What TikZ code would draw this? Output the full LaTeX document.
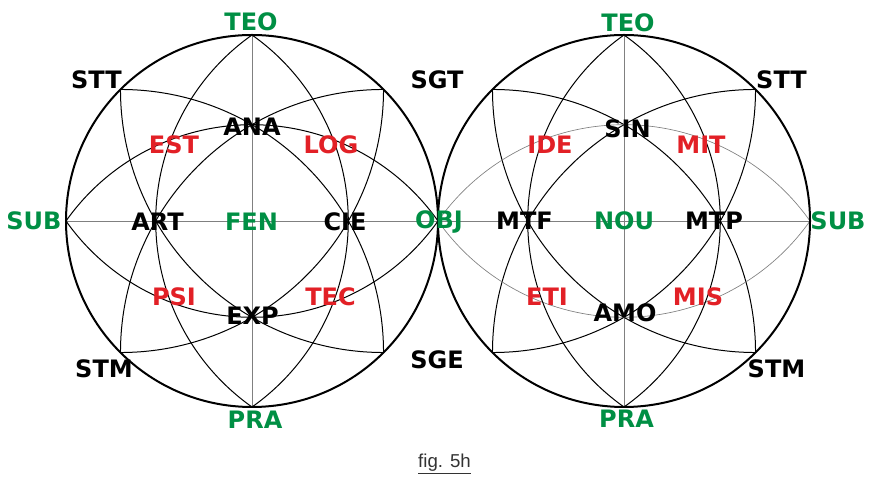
\documentclass[tikz,border=0pt]{standalone}
\usepackage{fontspec}
\setmainfont{DejaVu Sans}
\newfontfamily\capfont{Liberation Sans}
\usepackage{xcolor}
\usepackage{tikz}
\definecolor{verde}{RGB}{0,143,68}
\definecolor{rojo}{RGB}{226,32,38}

\begin{document}
\begin{tikzpicture}[x=0.75pt,y=0.75pt,
  lbl/.style={font=\fontsize{18}{18}\selectfont\bfseries,inner sep=0pt,text depth=0pt},
  eje/.style={lbl,text=verde},
  sec/.style={lbl,text=black},
  med/.style={lbl,text=rojo},
  borde/.style={line width=1.5pt},
  arco/.style={line width=0.75pt},
  fino/.style={line width=0.5pt,gray}]
\useasboundingbox (0,0) rectangle (871,481);
\coordinate (lc) at (252,260);
\coordinate (rc) at (624,260);
\path (lc) ++(90:186) coordinate (lteo)
      (lc) ++(270:186) coordinate (lpra)
      (lc) ++(180:186) coordinate (lsub)
      (lc) ++(0:186) coordinate (lobj)
      (lc) ++(135:186) coordinate (lstt)
      (lc) ++(45:186) coordinate (lsgt)
      (lc) ++(225:186) coordinate (lstm)
      (lc) ++(315:186) coordinate (lsge);
\path (rc) ++(90:186) coordinate (rteo)
      (rc) ++(270:186) coordinate (rpra)
      (rc) ++(180:186) coordinate (robj)
      (rc) ++(0:186) coordinate (rsub)
      (rc) ++(135:186) coordinate (rsgt)
      (rc) ++(45:186) coordinate (rstt)
      (rc) ++(225:186) coordinate (rsge)
      (rc) ++(315:186) coordinate (rstm);

\draw[fino] (lteo) -- (lpra);
\draw[fino] (rteo) -- (rpra);
\draw[fino] (lsub) -- (rsub);

\draw[arco] (lstt) arc[start angle=180,end angle=270,radius=263.05];
\draw[arco] (lsgt) arc[start angle=0,end angle=-90,radius=263.05];
\draw[arco] (lstt) arc[start angle=90,end angle=0,radius=263.05];
\draw[arco] (lstm) arc[start angle=180,end angle=90,radius=263.05];
\draw[arco] (lsub) arc[start angle=144.74,end angle=35.26,radius=227.8];
\draw[arco] (lsub) arc[start angle=215.26,end angle=324.74,radius=227.8];
\draw[arco] (lteo) arc[start angle=125.26,end angle=234.74,radius=227.8];
\draw[arco] (lteo) arc[start angle=54.74,end angle=-54.74,radius=227.8];

\draw[arco] (rsgt) arc[start angle=180,end angle=270,radius=263.05];
\draw[arco] (rstt) arc[start angle=0,end angle=-90,radius=263.05];
\draw[arco] (rsgt) arc[start angle=90,end angle=0,radius=263.05];
\draw[arco] (rsge) arc[start angle=180,end angle=90,radius=263.05];
\draw[fino] (robj) arc[start angle=144.74,end angle=35.26,radius=227.8];
\draw[fino] (robj) arc[start angle=215.26,end angle=324.74,radius=227.8];
\draw[arco] (rteo) arc[start angle=125.26,end angle=234.74,radius=227.8];
\draw[arco] (rteo) arc[start angle=54.74,end angle=-54.74,radius=227.8];

\draw[borde] (lc) circle[radius=186];
\draw[borde] (rc) circle[radius=186];

\node[eje] (teo1) at (251,459) {TEO};
\node[eje] (pra1) at (255,61) {PRA};
\node[eje] (sub1) at (34,260) {SUB};
\node[eje] (obj) at (439,261) {OBJ};
\node[sec] (stt1) at (96.5,401) {STT};
\node[sec] (sgt) at (437,401) {SGT};
\node[sec] (stm1) at (104,112) {STM};
\node[sec] (sge) at (437,121) {SGE};
\node[sec] (ana) at (252,354.5) {ANA};
\node[sec] (art) at (157.5,259.5) {ART};
\node[sec] (cie) at (345,259.5) {CIE};
\node[sec] (exp) at (252.5,165) {EXP};
\node[eje] (fen) at (251.5,259.5) {FEN};
\node[med] (est) at (174,336) {EST};
\node[med] (log) at (331,336) {LOG};
\node[med] (psi) at (174,184.5) {PSI};
\node[med] (tec) at (330.5,184.5) {TEC};

\node[eje] (teo2) at (628,458.5) {TEO};
\node[eje] (pra2) at (626.5,62) {PRA};
\node[eje] (sub2) at (838,260) {SUB};
\node[sec] (stt2) at (781.5,401) {STT};
\node[sec] (stm2) at (776.5,112.5) {STM};
\node[sec] (sin) at (627.5,352) {SIN};
\node[sec] (mtf) at (524.5,260) {MTF};
\node[sec] (mtp) at (714,260) {MTP};
\node[sec] (amo) at (625,168.5) {AMO};
\node[eje] (nou) at (624,260) {NOU};
\node[med] (ide) at (550,336) {IDE};
\node[med] (mit) at (701,336) {MIT};
\node[med] (eti) at (547,184.5) {ETI};
\node[med] (mis) at (698,184.5) {MIS};

\node[font=\capfont\fontsize{14}{14}\selectfont,text=black!80] (pie) at (444.5,17) {\underline{fig. 5h}};
\end{tikzpicture}
\end{document}
